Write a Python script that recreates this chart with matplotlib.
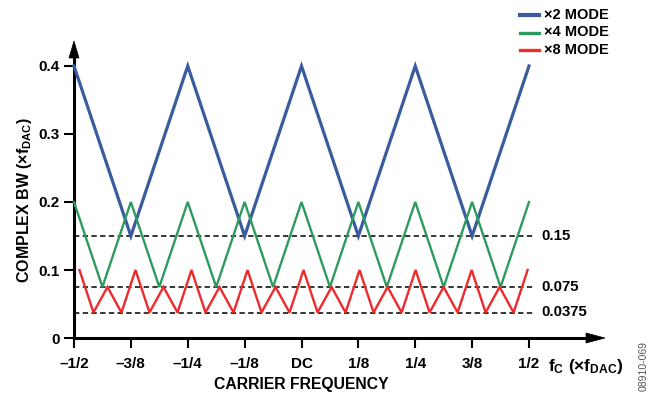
import matplotlib
matplotlib.use("Agg")
import matplotlib.pyplot as plt
from matplotlib.patches import Polygon
from matplotlib.lines import Line2D

plt.rcParams['font.family'] = ['Liberation Sans', 'DejaVu Sans']
plt.rcParams['font.weight'] = 'bold'
plt.rcParams['mathtext.fontset'] = 'custom'
plt.rcParams['mathtext.rm'] = 'Liberation Sans:bold'
plt.rcParams['mathtext.bf'] = 'Liberation Sans:bold'
plt.rcParams['mathtext.it'] = 'Liberation Sans:bold'

# ---- data ----
x2_x = [-0.5, -0.375, -0.25, -0.125, 0.0, 0.125, 0.25, 0.375, 0.5]
x2_y = [0.4, 0.15, 0.4, 0.15, 0.4, 0.15, 0.4, 0.15, 0.4]

x4_x = [-0.5, -0.4375, -0.375, -0.3125, -0.25, -0.1875, -0.125, -0.0625, 0.0,
        0.0625, 0.125, 0.1875, 0.25, 0.3125, 0.375, 0.4375, 0.5]
x4_y = [0.2, 0.075, 0.2, 0.075, 0.2, 0.075, 0.2, 0.075, 0.2,
        0.075, 0.2, 0.075, 0.2, 0.075, 0.2, 0.075, 0.2]

x8_x = [-0.488, -0.4572, -0.4264, -0.3957, -0.3649, -0.3341, -0.3033, -0.2725,
        -0.2418, -0.2110, -0.1802, -0.1494, -0.1186, -0.0879, -0.0571, -0.0263,
        0.0045, 0.0353, 0.0661, 0.0968, 0.1276, 0.1584, 0.1892, 0.2200,
        0.2507, 0.2815, 0.3123, 0.3431, 0.3739, 0.4046, 0.4354, 0.4662, 0.4970]
x8_y = [0.1, 0.0375, 0.075, 0.0375, 0.1, 0.0375, 0.075, 0.0375,
        0.1, 0.0375, 0.075, 0.0375, 0.1, 0.0375, 0.075, 0.0375,
        0.1, 0.0375, 0.075, 0.0375, 0.1, 0.0375, 0.075, 0.0375,
        0.1, 0.0375, 0.075, 0.0375, 0.1, 0.0375, 0.075, 0.0375, 0.1]

ref_levels = [0.15, 0.075, 0.0375]
ref_labels = ["0.15", "0.075", "0.0375"]

xticks = [-0.5, -0.375, -0.25, -0.125, 0.0, 0.125, 0.25, 0.375, 0.5]
xticklabels = ["\u20131/2", "\u20133/8", "\u20131/4", "\u20131/8", "DC", "1/8", "1/4", "3/8", "1/2"]
yticks = [0, 0.1, 0.2, 0.3, 0.4]
yticklabels = ["0", "0.1", "0.2", "0.3", "0.4"]

series_names = ["\u00d72 MODE", "\u00d74 MODE", "\u00d78 MODE"]
colors = ["#3a5b9e", "#2f9a5e", "#ee2a2a"]
widths = [2.3, 1.7, 1.7]

W, H = 656, 396
fig = plt.figure(figsize=(W / 100, H / 100), dpi=100)
x0, x1 = 74, 596
y0, y1 = 338, 50
ax = fig.add_axes([x0 / W, 1 - y0 / H, (x1 - x0) / W, (y0 - y1) / H])
ax.set_xlim(-0.5, -0.5 + (x1 - x0) / 455.0)
ax.set_ylim(0, (y0 - y1) / 680.0)

lines = []
for xs, ys, c, w in [(x2_x, x2_y, colors[0], widths[0]),
                     (x4_x, x4_y, colors[1], widths[1]),
                     (x8_x, x8_y, colors[2], widths[2])]:
    l, = ax.plot(xs, ys, color=c, lw=w, solid_joinstyle='miter', zorder=3, clip_on=False)
    lines.append(l)

xr_end = 0.5 + 6 / 455.0
for lev, lab in zip(ref_levels, ref_labels):
    ax.plot([-0.5, xr_end], [lev, lev], color='black', lw=1.1, ls=(0, (3.5, 2.2)), zorder=2, clip_on=False)
    ax.text(xr_end + 6 / 455.0, lev, lab, fontsize=10.8, fontweight='bold', va='center', ha='left')

for s in ['top', 'right']:
    ax.spines[s].set_visible(False)
for s in ['left', 'bottom']:
    ax.spines[s].set_linewidth(2.2)
    ax.spines[s].set_capstyle('butt')

def px(x, y):
    return (x / W, 1 - y / H)

# arrow heads (figure pixel geometry)
fig.patches.append(Polygon([px(74, 41), px(69, 58), px(79, 58)], closed=True,
                           transform=fig.transFigure, facecolor='black', edgecolor='black', lw=0.5))
fig.patches.append(Polygon([px(605, 338), px(586, 333), px(586, 343)], closed=True,
                           transform=fig.transFigure, facecolor='black', edgecolor='black', lw=0.5))

ax.set_xticks(xticks)
ax.set_xticklabels(xticklabels, fontsize=11, fontweight='bold')
ax.set_yticks(yticks)
ax.set_yticklabels(yticklabels, fontsize=11, fontweight='bold')
ax.tick_params(axis='x', direction='out', length=7, width=1.5, pad=7)
ax.tick_params(axis='y', direction='out', length=7, width=1.5, pad=3.5)

fig.text(548 / W, 1 - 366 / H, "f$_\\mathrm{C}$ (\u00d7f$_\\mathrm{DAC}$)",
         fontsize=12.5, fontweight='bold', ha='left', va='center')
fig.text(301 / W, 1 - 385 / H, "CARRIER FREQUENCY", fontsize=11.3, fontweight='bold', ha='center', va='center')
fig.text(25 / W, 1 - 200 / H, "COMPLEX BW (\u00d7f$_\\mathrm{DAC}$)", fontsize=11.5, fontweight='bold',
         ha='center', va='center', rotation=90)

# legend (manual)
leg_rows = [15, 32.5, 50]
for name, c, w, yy in zip(series_names, colors, [3.0, 2.4, 2.4], leg_rows):
    fig.lines.append(Line2D([520 / W, 539 / W], [1 - yy / H, 1 - yy / H], color=c, lw=w,
                            transform=fig.transFigure))
    fig.text(544 / W, 1 - yy / H, name, fontsize=10.5, fontweight='bold', ha='left', va='center')

fig.text(644 / W, 1 - 366 / H, "08910-069", fontsize=7.5, color='#555555', rotation=90,
         ha='center', va='center', fontweight='normal')

fig.savefig("out.png", dpi=100)
